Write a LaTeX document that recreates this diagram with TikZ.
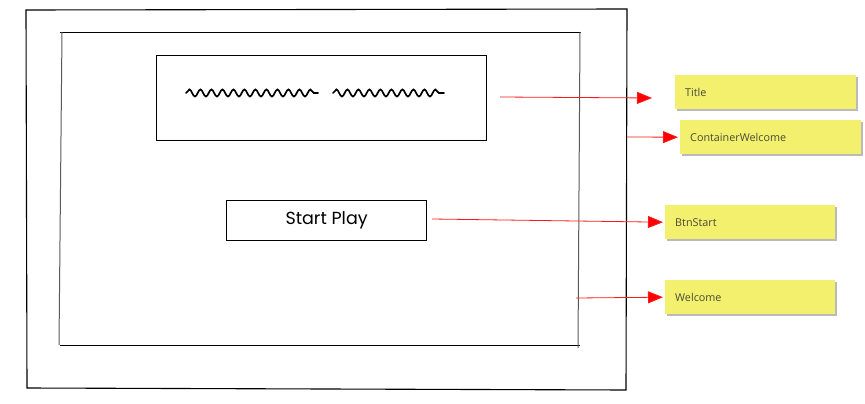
\documentclass[tikz,border=0pt]{standalone}
\usepackage{fontspec}
\setmainfont{Open Sans}
\newfontfamily\handfont{Poppins}
\usetikzlibrary{arrows.meta,decorations.pathmorphing,shadows}
\definecolor{noteyellow}{HTML}{F2F06C}
\definecolor{notetext}{HTML}{4A4A3A}
\begin{document}
\begin{tikzpicture}[x=1pt,y=-1pt,
  frame/.style={draw=black,line width=1.1pt},
  innerframe/.style={draw=black,line width=0.8pt},
  innerside/.style={draw=black!65,line width=1pt},
  sketchbox/.style={draw=black,line width=1.2pt,fill=white},
  note/.style={fill=noteyellow,draw=none,minimum height=34pt,text width=#1,
    inner sep=0pt,inner xsep=10pt,align=left,font=\fontsize{10.8}{13}\selectfont,
    text=notetext,anchor=north west,
    drop shadow={shadow xshift=2pt,shadow yshift=-2pt,opacity=0.45,fill=black!60}},
  redarrow/.style={draw=red!90,line width=0.8pt,
    -{Triangle[length=15pt,width=12pt,fill=red]}},
  scribble/.style={line width=1.7pt,decorate,line cap=round,
    decoration={snake,segment length=11pt,amplitude=3.5pt}}]
\useasboundingbox (0,0) rectangle (865,404);
% outer frame
\draw[frame] (26,10) -- (627,9) -- (626,390) -- (27,388) -- cycle;
% inner frame
\draw[innerframe] (60,32) -- (581,32);
\draw[innerframe] (60,345) -- (580,345);
\draw[innerside] (62,32) -- (59,345);
\draw[innerside] (580,32) -- (578,348);
% title box
\node[sketchbox,minimum width=330pt,minimum height=85pt,anchor=north west] (titlebox) at (156,55) {};
\draw[scribble] (186,93) -- (318,93);
\draw[scribble] (333,93) -- (444,93);
% start button
\node[sketchbox,minimum width=200pt,minimum height=40pt,anchor=north west,
  font=\handfont\fontsize{17.5}{19}\selectfont] (btn) at (226,200) {Start Play};
% notes
\node[note=161pt] (nTitle) at (675,75) {Title};
\node[note=161pt] (nCont) at (680,120) {ContainerWelcome};
\node[note=150pt] (nBtn) at (665,205) {BtnStart};
\node[note=150pt] (nWel) at (665,280) {Welcome};
% arrows
\coordinate (sTitle) at (500,97);
\coordinate (eTitle) at (652,98);
\coordinate (sCont) at (627,137);
\coordinate (sBtn) at (432,219);
\coordinate (sWel) at (576,298);
\draw[redarrow] (sTitle) -- (eTitle);
\draw[redarrow] (sCont) -- ([xshift=-2pt]nCont.west);
\draw[redarrow] (sBtn) -- ([xshift=-2pt]nBtn.west);
\draw[redarrow] (sWel) -- ([xshift=-2pt]nWel.west);
\end{tikzpicture}
\end{document}
